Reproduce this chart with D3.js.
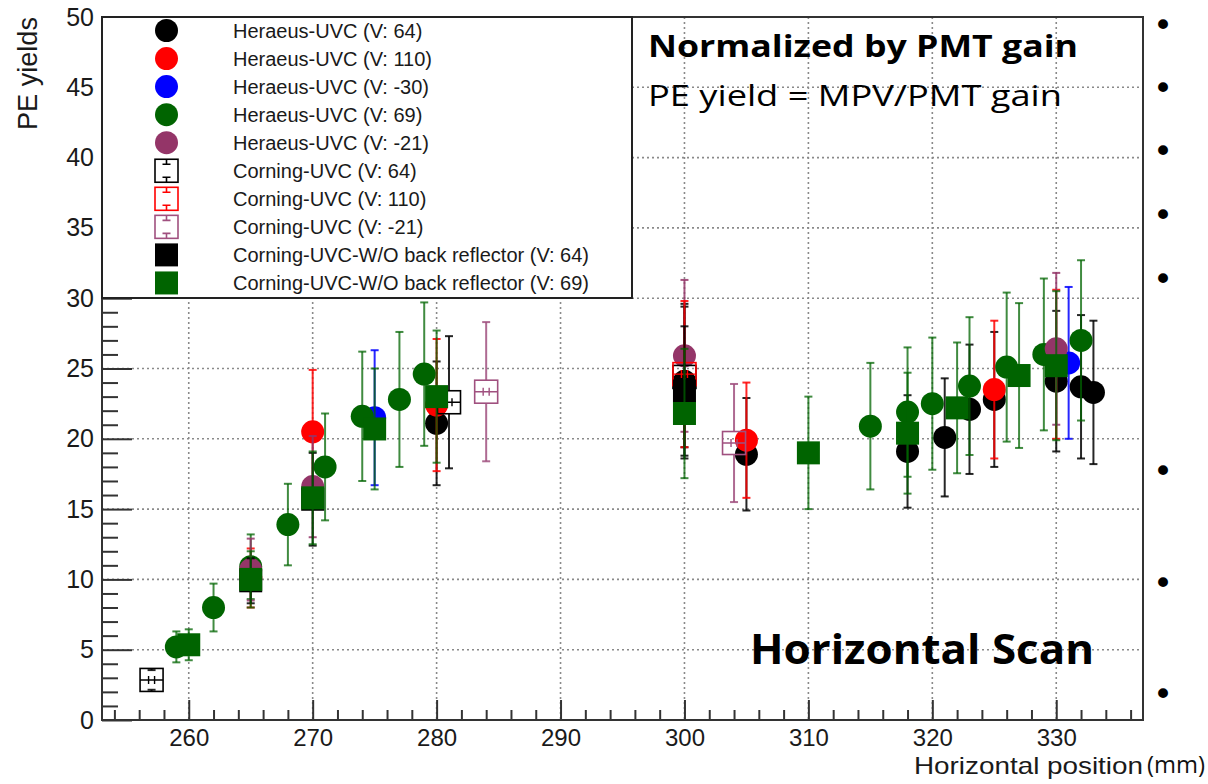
<!DOCTYPE html>
<html><head><meta charset="utf-8">
<script src="https://cdn.jsdelivr.net/npm/d3@7"></script>
<style>body{margin:0;background:#fff;overflow:hidden}</style>
</head><body>
<svg id="c" width="1208" height="784"></svg>
<script>
// ---------- data ----------
const xDomain = [253, 337];
const yDomain = [0, 50];
const xMajorTicks = [260, 270, 280, 290, 300, 310, 320, 330];
const yMajorTicks = [0, 5, 10, 15, 20, 25, 30, 35, 40, 45, 50];

const legendLabels = [
  "Heraeus-UVC (V: 64)", "Heraeus-UVC (V: 110)", "Heraeus-UVC (V: -30)",
  "Heraeus-UVC (V: 69)", "Heraeus-UVC (V: -21)", "Corning-UVC (V: 64)",
  "Corning-UVC (V: 110)", "Corning-UVC (V: -21)",
  "Corning-UVC-W/O back reflector (V: 64)", "Corning-UVC-W/O back reflector (V: 69)"
];

const heraeus64_x = [280, 300, 305, 318, 321, 323, 325, 330, 332, 333];
const heraeus64_y = [21.1, 24.1, 18.9, 19.1, 20.1, 22.1, 22.8, 24.1, 23.7, 23.3];
const heraeus64_e = [4.4, 5.5, 4.0, 4.0, 4.2, 4.6, 4.8, 5.0, 5.1, 5.1];

const heraeus110_x = [265, 270, 280, 305, 325, 330];
const heraeus110_y = [10.1, 20.5, 22.4, 19.9, 23.5, 25.3];
const heraeus110_e = [2.1, 4.4, 4.7, 4.1, 4.9, 5.3];

const heraeusM30_x = [275, 331];
const heraeusM30_y = [21.5, 25.4];
const heraeusM30_e = [4.8, 5.4];

const heraeus69_x = [259, 262, 265, 268, 271, 274, 277, 279, 315, 318, 320, 323, 326, 329, 332];
const heraeus69_y = [5.2, 8.0, 10.9, 13.9, 18.0, 21.6, 22.8, 24.6, 20.9, 21.9, 22.5, 23.75, 25.1, 26.0, 27.0];
const heraeus69_e = [1.1, 1.7, 2.3, 2.9, 3.8, 4.6, 4.8, 5.1, 4.5, 4.6, 4.7, 4.9, 5.3, 5.4, 5.7];

const heraeusM21_x = [265, 270, 300, 330];
const heraeusM21_y = [10.7, 16.6, 25.9, 26.4];
const heraeusM21_e = [2.2, 3.6, 5.4, 5.4];

const corning64_x = [257, 281, 300];
const corning64_y = [2.85, 22.6, 24.4];
const corning64_e = [0.7, 4.7, 5.0];

const corning110_x = [300];
const corning110_y = [24.6];
const corning110_e = [5.2];

const corningM21_x = [284, 304];
const corningM21_y = [23.35, 19.7];
const corningM21_e = [4.95, 4.2];

const wo64_x = [265, 270, 300];
const wo64_y = [9.9, 15.7, 23.4];
const wo64_e = [1.6, 3.3, 4.6];

const wo69_x = [260, 265, 270, 275, 280, 300, 310, 318, 322, 327, 330];
const wo69_y = [5.35, 10.0, 15.8, 20.7, 23.0, 21.8, 19.0, 20.4, 22.2, 24.5, 25.2];
const wo69_e = [1.1, 2.0, 3.3, 4.3, 4.7, 4.6, 4.0, 4.3, 4.65, 5.15, 5.3];

const bulletRows = [25, 88, 151, 215, 279, 471, 583, 694];

// ---------- series config (styles) ----------
const GREEN = "#006400", MAROON = "#943568";
const series = [
  {x: heraeus64_x,  y: heraeus64_y,  e: heraeus64_e,  color: "#000000", shape: "circle"},
  {x: heraeus110_x, y: heraeus110_y, e: heraeus110_e, color: "#ff0000", shape: "circle"},
  {x: heraeusM30_x, y: heraeusM30_y, e: heraeusM30_e, color: "#0000ff", shape: "circle"},
  {x: heraeus69_x,  y: heraeus69_y,  e: heraeus69_e,  color: GREEN,     shape: "circle"},
  {x: heraeusM21_x, y: heraeusM21_y, e: heraeusM21_e, color: MAROON,    shape: "circle"},
  {x: corning64_x,  y: corning64_y,  e: corning64_e,  color: "#000000", shape: "open"},
  {x: corning110_x, y: corning110_y, e: corning110_e, color: "#ff0000", shape: "open"},
  {x: corningM21_x, y: corningM21_y, e: corningM21_e, color: "#a0507f", shape: "open"},
  {x: wo64_x,       y: wo64_y,       e: wo64_e,       color: "#000000", shape: "square"},
  {x: wo69_x,       y: wo69_y,       e: wo69_e,       color: GREEN,     shape: "square"}
];

// ---------- layout ----------
const L = 102, R = 1143, T = 17, B = 720;
const x = d3.scaleLinear().domain(xDomain).range([L, R]);
const y = d3.scaleLinear().domain(yDomain).range([B, T]);
const svg = d3.select("#c");
const HELV = "'Liberation Sans', Arial, Helvetica, sans-serif";
const SLIDE = "'Open Sans', 'Noto Sans', sans-serif";

// grid
const grid = svg.append("g").attr("stroke", "#8a8a8a").attr("stroke-width", 1.6)
  .attr("stroke-dasharray", "2,3");
grid.selectAll("line.gx").data(xMajorTicks).join("line")
  .attr("x1", d => x(d)).attr("x2", d => x(d)).attr("y1", T).attr("y2", B);
grid.selectAll("line.gy").data(yMajorTicks.filter(d => d > 0 && d < 50)).join("line")
  .attr("x1", L).attr("x2", R).attr("y1", d => y(d)).attr("y2", d => y(d));

// axes (ticks inward)
const axStyle = (g, fs) => {
  g.select(".domain").remove();
  g.selectAll(".tick line").attr("stroke", "#333").attr("stroke-width", 2);
  g.selectAll("text").attr("font-family", HELV).attr("font-size", fs).attr("fill", "#1a1a1a");
};
svg.append("g").attr("transform", `translate(0,${B})`)
  .call(d3.axisBottom(x).tickValues(d3.range(254, 337, 2).filter(d => d % 10 !== 0)).tickSize(-10).tickFormat(""))
  .call(axStyle, 24);
svg.append("g").attr("transform", `translate(0,${B})`)
  .call(d3.axisBottom(x).tickValues(xMajorTicks).tickSize(-20).tickPadding(9).tickFormat(d3.format("d")))
  .call(axStyle, 24);
svg.append("g").attr("transform", `translate(${L},0)`)
  .call(d3.axisLeft(y).tickValues(d3.range(1, 50, 1).filter(d => d % 5 !== 0)).tickSize(-16).tickFormat(""))
  .call(axStyle, 25);
svg.append("g").attr("transform", `translate(${L},0)`)
  .call(d3.axisLeft(y).tickValues(yMajorTicks).tickSize(-30).tickPadding(8).tickFormat(d3.format("d")))
  .call(axStyle, 25);

// frame
svg.append("rect").attr("x", L).attr("y", T).attr("width", R - L).attr("height", B - T)
  .attr("fill", "none").attr("stroke", "#333").attr("stroke-width", 2);

// data
const CAP = 4, MR = 11.5, MS = 23;
function drawMarker(g, cx, cy, s, inLegend) {
  if (s.shape === "circle") {
    g.append("circle").attr("cx", cx).attr("cy", cy).attr("r", MR).attr("fill", s.color);
  } else if (s.shape === "square") {
    g.append("rect").attr("x", cx - MS / 2).attr("y", cy - MS / 2).attr("width", MS).attr("height", MS)
      .attr("fill", s.color);
  } else {
    g.append("rect").attr("x", cx - MS / 2).attr("y", cy - MS / 2).attr("width", MS).attr("height", MS)
      .attr("fill", "none").attr("stroke", s.color).attr("stroke-width", 1.6);
    if (inLegend) {
      g.append("path").attr("stroke", s.color).attr("stroke-width", 1.6).attr("fill", "none")
        .attr("d", `M${cx},${cy - MS / 2}V${cy - MS / 2 + 5}M${cx - CAP},${cy - MS / 2 + 5}H${cx + CAP}` +
          `M${cx},${cy + MS / 2}V${cy + MS / 2 - 5}M${cx - CAP},${cy + MS / 2 - 5}H${cx + CAP}`);
    } else {
      g.append("path").attr("stroke", s.color).attr("stroke-width", 1.4).attr("fill", "none")
        .attr("d", `M${cx - MS / 2},${cy}H${cx + MS / 2}M${cx - 3},${cy - 4}V${cy + 4}M${cx + 3},${cy - 4}V${cy + 4}`);
    }
  }
}

const dataG = svg.append("g");
series.forEach(s => {
  const g = dataG.append("g");
  s.x.forEach((xv, i) => {
    const cx = x(xv), cy = y(s.y[i]);
    const yt = y(s.y[i] + s.e[i]), yb = y(s.y[i] - s.e[i]);
    const eb = g.append("g").attr("stroke", s.color).attr("stroke-width", 2)
      .attr("stroke-opacity", s.color === GREEN ? 0.75 : 0.85);
    if (s.shape === "open") {
      eb.append("line").attr("x1", cx).attr("x2", cx).attr("y1", yt).attr("y2", cy - MS / 2);
      eb.append("line").attr("x1", cx).attr("x2", cx).attr("y1", cy + MS / 2).attr("y2", yb);
    } else {
      eb.append("line").attr("x1", cx).attr("x2", cx).attr("y1", yt).attr("y2", yb);
    }
    eb.append("line").attr("x1", cx - CAP).attr("x2", cx + CAP).attr("y1", yt).attr("y2", yt);
    eb.append("line").attr("x1", cx - CAP).attr("x2", cx + CAP).attr("y1", yb).attr("y2", yb);
    drawMarker(g, cx, cy, s, false);
  });
});

// legend
const lg = svg.append("g");
lg.append("rect").attr("x", L).attr("y", T).attr("width", 632 - L).attr("height", 298 - T)
  .attr("fill", "#fff").attr("stroke", "#222").attr("stroke-width", 2);
const rowY = i => 30.5 + i * 28.05;
series.forEach((s, i) => {
  drawMarker(lg, 166.5, rowY(i), s, true);
  lg.append("text").attr("x", 233).attr("y", rowY(i)).attr("dy", "0.36em")
    .attr("font-family", HELV).attr("font-size", 20).attr("fill", "#1a1a1a").text(legendLabels[i]);
});

// axis titles
svg.append("text").attr("transform", "translate(37,17) rotate(-90)").attr("text-anchor", "end")
  .attr("font-family", HELV).attr("font-size", 27).attr("fill", "#1a1a1a")
  .attr("textLength", 113).attr("lengthAdjust", "spacingAndGlyphs").text("PE yields");
svg.append("text").attr("x", 1143).attr("y", 774).attr("text-anchor", "end")
  .attr("font-family", HELV).attr("font-size", 24).attr("fill", "#1a1a1a")
  .attr("textLength", 229).attr("lengthAdjust", "spacingAndGlyphs").text("Horizontal position");
svg.append("text").attr("x", 1147).attr("y", 773)
  .attr("font-family", SLIDE).attr("font-size", 24).attr("fill", "#111")
  .attr("textLength", 58).attr("lengthAdjust", "spacingAndGlyphs").text("(mm)");

// slide annotations
svg.append("text").attr("x", 648).attr("y", 57).attr("font-family", SLIDE).attr("font-weight", "bold")
  .attr("font-size", 30).attr("fill", "#000").attr("textLength", 430).attr("lengthAdjust", "spacingAndGlyphs")
  .text("Normalized by PMT gain");
svg.append("text").attr("x", 648).attr("y", 106).attr("font-family", SLIDE)
  .attr("font-size", 30).attr("fill", "#000").attr("textLength", 414).attr("lengthAdjust", "spacingAndGlyphs")
  .text("PE yield = MPV/PMT gain");
svg.append("text").attr("x", 750).attr("y", 664).attr("font-family", SLIDE).attr("font-weight", "bold")
  .attr("font-size", 42).attr("fill", "#000").attr("textLength", 344).attr("lengthAdjust", "spacingAndGlyphs")
  .text("Horizontal Scan");
svg.append("g").selectAll("text").data(bulletRows).join("text")
  .attr("x", 1163).attr("y", d => d).attr("dy", "0.35em").attr("text-anchor", "middle")
  .attr("font-family", "'DejaVu Sans', sans-serif").attr("font-size", 34).attr("fill", "#000").text("•");
</script>
</body></html>
